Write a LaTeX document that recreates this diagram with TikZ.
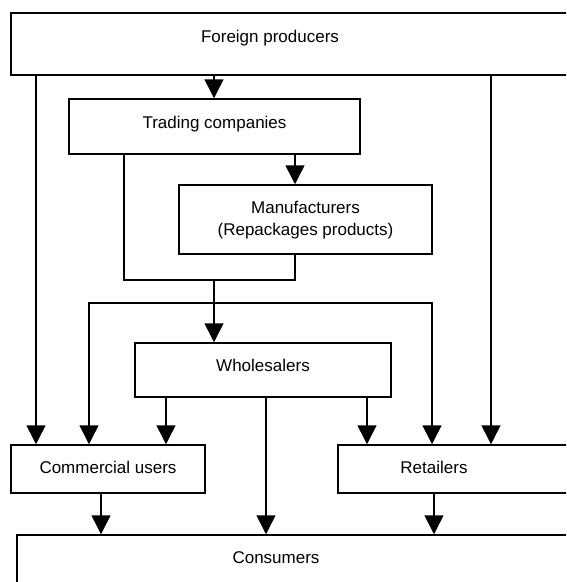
\documentclass[tikz,border=0pt]{standalone}
\usepackage{fontspec}
\setmainfont{Liberation Sans}
\usetikzlibrary{arrows.meta, positioning}

\tikzset{
    box/.style={draw, rectangle, line width=1.5pt, inner sep=0pt},
    lbl/.style={anchor=base, inner sep=0pt, font=\fontsize{17}{20}\selectfont},
}

\begin{document}
\begin{tikzpicture}[x=1pt, y=-1pt, >={Triangle[length=19pt, width=19pt]}, line width=1.5pt]

    \useasboundingbox (0,0) rectangle (566,582);
    \fill[white] (0,0) rectangle (566,582);
    \clip (0,0) rectangle (566,582);

        % Boxes
        \node[box, minimum width=589, minimum height=62] (fp) at (305.5,44) {};
        \node[box, minimum width=291, minimum height=55] (trade) at (214.5,126.5) {};
        \node[box, minimum width=253, minimum height=69] (manu) at (305.5,219.5) {};
        \node[box, minimum width=256, minimum height=54] (whole) at (263,370) {};
        \node[box, minimum width=194, minimum height=48] (comm) at (108,469) {};
        \node[box, minimum width=262, minimum height=48] (ret) at (469,469) {};
        \node[box, minimum width=583, minimum height=85] (cons) at (308.5,577.5) {};

        % Labels
        \node[lbl] (fptxt) at (270,42) {Foreign producers};
        \node[lbl] (tradetxt) at (214.5,128) {Trading companies};
        \node[lbl] (manutxt) at (305.5,213) {Manufacturers};
        \node[lbl] (reptxt) at (305.5,235) {(Repackages products)};
        \node[lbl] (wholetxt) at (263,371) {Wholesalers};
        \node[lbl] (commtxt) at (108,473) {Commercial users};
        \node[lbl] (rettxt) at (434,473) {Retailers};
        \node[lbl] (constxt) at (276,563) {Consumers};

        % Columns for the vertical lines
        \coordinate (c1) at (36,0);
        \coordinate (c2) at (89,0);
        \coordinate (c3) at (101,0);
        \coordinate (c4) at (124,0);
        \coordinate (c5) at (166,0);
        \coordinate (c6) at (214,0);
        \coordinate (c7) at (266,0);
        \coordinate (c8) at (295,0);
        \coordinate (c9) at (367,0);
        \coordinate (c10) at (432,0);
        \coordinate (c11) at (434,0);
        \coordinate (c12) at (491,0);
        \coordinate (merge) at (214,280);
        \coordinate (split) at (214,303);

        % Arrows from the foreign producers
        \draw[->] (fp.south -| c1) -- (comm.north -| c1);
        \draw[->] (fp.south -| c6) -- (trade.north -| c6);
        \draw[->] (fp.south -| c12) -- (ret.north -| c12);

        % Trading companies and manufacturers
        \draw[->] (trade.south -| c8) -- (manu.north -| c8);
        \draw (trade.south -| c4) -- (c4 |- merge) -- (c8 |- merge) -- (manu.south -| c8);
        \draw[->] (merge) -- (whole.north -| merge);
        \draw[<->] (comm.north -| c2) -- (c2 |- split) -- (c10 |- split) -- (ret.north -| c10);

        % Wholesalers
        \draw[->] (whole.south -| c5) -- (comm.north -| c5);
        \draw[->] (whole.south -| c9) -- (ret.north -| c9);

        % Into the consumers
        \foreach \c/\n in {c3/comm, c7/whole, c11/ret} {
            \draw[->] (\n.south -| \c) -- (cons.north -| \c);
        }

\end{tikzpicture}
\end{document}
